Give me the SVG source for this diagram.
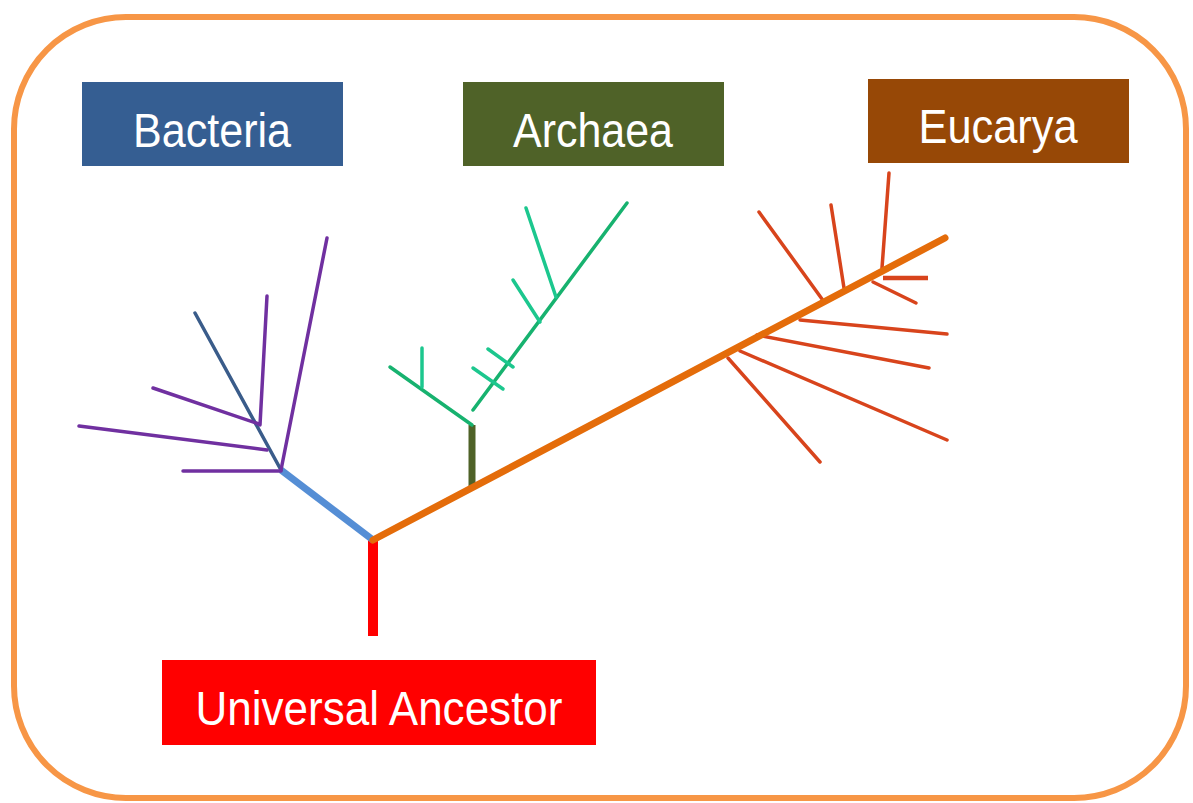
<svg xmlns="http://www.w3.org/2000/svg" width="1193" height="803" viewBox="0 0 1193 803">
<style>
.lbl{font-family:"Liberation Sans",Arial,sans-serif;font-size:48px;fill:#ffffff;text-anchor:middle}
.pur{stroke:#7030A0;stroke-width:3.5;stroke-linecap:round;fill:none}
.grn{stroke:#17B26F;stroke-width:3.5;stroke-linecap:round;fill:none}
.grn2{stroke:#1CC78E;stroke-width:3.5;stroke-linecap:round;fill:none}
.red{stroke:#D8441C;stroke-width:3.5;stroke-linecap:round;fill:none}
</style>
<rect x="0" y="0" width="1193" height="803" fill="#ffffff"/>
<rect x="14" y="17" width="1172" height="781" rx="112" ry="112" fill="#ffffff" stroke="#F79646" stroke-width="6"/>
<g id="bacteria">
<rect x="82" y="82" width="261" height="84" fill="#355E92"/>
<text class="lbl" x="212" y="147" textLength="158" lengthAdjust="spacingAndGlyphs">Bacteria</text>
</g>
<g id="archaea">
<rect x="463" y="82" width="261" height="84" fill="#4F6228"/>
<text class="lbl" x="593" y="147" textLength="160" lengthAdjust="spacingAndGlyphs">Archaea</text>
</g>
<g id="eucarya">
<rect x="868" y="79" width="261" height="84" fill="#974806"/>
<text class="lbl" x="998" y="143" textLength="159" lengthAdjust="spacingAndGlyphs">Eucarya</text>
</g>
<g id="ancestor">
<rect x="162" y="660" width="434" height="85" fill="#FF0000"/>
<text class="lbl" x="379" y="725" textLength="367" lengthAdjust="spacingAndGlyphs">Universal Ancestor</text>
</g>
<g id="connectors">
<line x1="373" y1="540" x2="373" y2="636" stroke="#FF0000" stroke-width="10"/>
<line x1="373" y1="540" x2="281" y2="470" stroke="#558ED5" stroke-width="7"/>
<line x1="472" y1="488" x2="472" y2="425" stroke="#4F6228" stroke-width="7"/>
<line x1="281" y1="470" x2="195" y2="313" stroke="#3A5C8A" stroke-width="3.5" stroke-linecap="round"/>
<line class="pur" x1="281" y1="470" x2="327" y2="238"/>
<line class="pur" x1="260" y1="425" x2="267" y2="296"/>
<line class="pur" x1="259" y1="424" x2="153" y2="388"/>
<line class="pur" x1="267" y1="450" x2="79" y2="426"/>
<line class="pur" x1="281" y1="471" x2="183" y2="471"/>
<line class="grn" x1="472" y1="425" x2="390" y2="367"/>
<line class="grn" x1="473" y1="410" x2="627" y2="203"/>
<line class="grn2" x1="422" y1="387" x2="422" y2="348"/>
<line class="grn2" x1="503" y1="389" x2="473" y2="368"/>
<line class="grn2" x1="513" y1="367" x2="488" y2="349"/>
<line class="grn2" x1="540" y1="322" x2="513" y2="280"/>
<line class="grn2" x1="556" y1="297" x2="526" y2="208"/>
<line class="red" x1="822" y1="299" x2="759" y2="212"/>
<line class="red" x1="844" y1="288" x2="831" y2="205"/>
<line class="red" x1="882" y1="268" x2="889" y2="173"/>
<line x1="883" y1="278" x2="928" y2="278" stroke="#D8441C" stroke-width="4.5"/>
<line class="red" x1="873" y1="282" x2="916" y2="303"/>
<line class="red" x1="800" y1="320" x2="947" y2="334"/>
<line class="red" x1="757" y1="335" x2="929" y2="368"/>
<line class="red" x1="740" y1="351" x2="947" y2="440"/>
<line class="red" x1="728" y1="358" x2="820" y2="462"/>
<line x1="373" y1="540" x2="945" y2="238" stroke="#E46C0A" stroke-width="7" stroke-linecap="round"/>
</g>
</svg>
